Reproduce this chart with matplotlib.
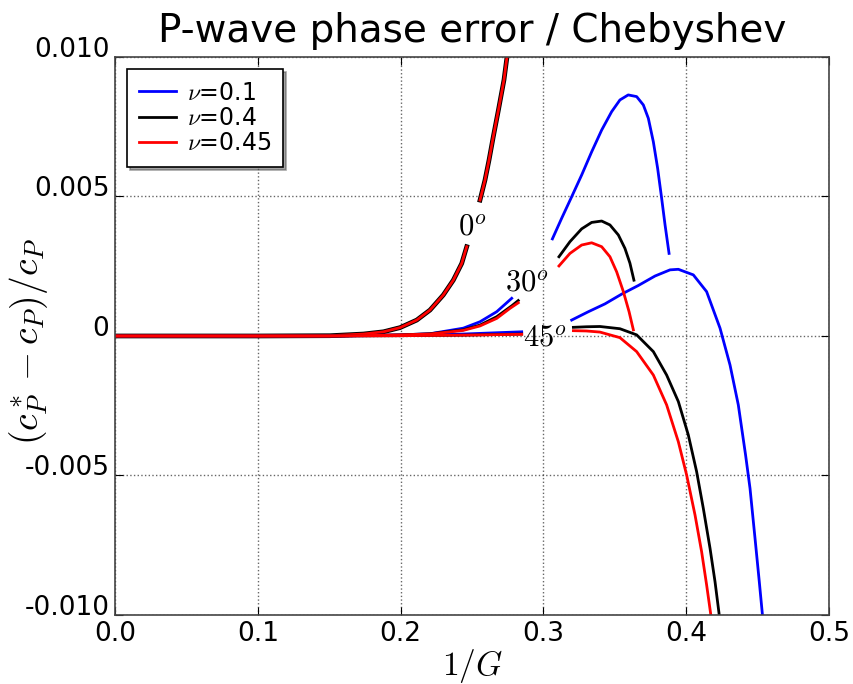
import matplotlib
matplotlib.use("Agg")
import matplotlib.pyplot as plt

plt.rcParams['mathtext.fontset'] = 'cm'
plt.rcParams['font.family'] = ['DejaVu Sans']

# 0 deg: all three nu lie on top of each other
x_0a = [0.0, 0.10, 0.1506, 0.174, 0.188, 0.1996, 0.2113, 0.2206, 0.2299, 0.2369, 0.2428, 0.2463]
y_0a = [0.0, 0.0, 0.00001, 0.00007, 0.00015, 0.0003, 0.00057, 0.00093, 0.00147, 0.002, 0.0026, 0.0032]
x_0b = [0.2556, 0.2591, 0.2619, 0.2649, 0.2685, 0.2724, 0.2745, 0.276]
y_0b = [0.00487, 0.00559, 0.0063, 0.00714, 0.0081, 0.00918, 0.0100, 0.0107]

# 30 deg, left of the label
x_30a_b = [0.0, 0.15, 0.18, 0.2, 0.2206, 0.2439, 0.2556, 0.2673, 0.2778]
y_30a_b = [0.0, 0.0, 0.00002, 0.00004, 0.00008, 0.00028, 0.00051, 0.00087, 0.00135]
x_30a_k = [0.0, 0.15, 0.18, 0.2, 0.2206, 0.2439, 0.2556, 0.2673, 0.2778, 0.2824]
y_30a_k = [0.0, 0.0, 0.00002, 0.00004, 0.00008, 0.00022, 0.00039, 0.00069, 0.00108, 0.00127]
x_30a_r = [0.0, 0.15, 0.18, 0.2, 0.2206, 0.2439, 0.2556, 0.2673, 0.2766, 0.2824]
y_30a_r = [0.0, 0.0, 0.00002, 0.00004, 0.00007, 0.0002, 0.00036, 0.00063, 0.00099, 0.00119]

# 30 deg, right of the label
x_30b_b = [0.3063, 0.3128, 0.3198, 0.3268, 0.3338, 0.3408, 0.3478, 0.3536, 0.3594, 0.3653,
           0.37, 0.3735, 0.377, 0.38, 0.3828, 0.3852, 0.388]
y_30b_b = [0.00348, 0.00422, 0.00499, 0.00577, 0.0066, 0.00738, 0.00804, 0.00846, 0.00864, 0.00858,
           0.00828, 0.0078, 0.00696, 0.00601, 0.00494, 0.00398, 0.00296]
x_30b_k = [0.3109, 0.3186, 0.3268, 0.3338, 0.3408, 0.3466, 0.3525, 0.3571, 0.3606, 0.3634]
y_30b_k = [0.00284, 0.00338, 0.00384, 0.00407, 0.00412, 0.00398, 0.00362, 0.00314, 0.00261, 0.002]
x_30b_r = [0.3109, 0.3186, 0.3268, 0.3338, 0.3408, 0.3466, 0.3513, 0.356, 0.36, 0.363]
y_30b_r = [0.00251, 0.00296, 0.00326, 0.00334, 0.0032, 0.00284, 0.0023, 0.00159, 0.00087, 0.00022]

# 45 deg, left of the label
x_45a_b = [0.0, 0.15, 0.2, 0.2439, 0.2848]
y_45a_b = [0.0, 0.0, 0.00002, 0.00007, 0.00015]
x_45a_k = [0.0, 0.15, 0.2, 0.2439, 0.2848]
y_45a_k = [0.0, 0.0, 0.00001, 0.00003, 0.00007]
x_45a_r = [0.0, 0.15, 0.2, 0.2439, 0.2848]
y_45a_r = [0.0, 0.0, 0.00001, 0.00003, 0.00006]

# 45 deg, right of the label
x_45b_b = [0.3198, 0.3315, 0.3431, 0.3548, 0.3665, 0.3782, 0.3887, 0.3945, 0.405, 0.4143,
           0.4237, 0.4307, 0.4365, 0.4416, 0.4447, 0.4482, 0.4512, 0.4533, 0.4540]
y_45b_b = [0.00057, 0.00087, 0.00115, 0.00150, 0.00181, 0.00215, 0.00237, 0.00239, 0.00219, 0.00159,
           0.00028, -0.00104, -0.00247, -0.00427, -0.00546, -0.00725, -0.00881, -0.00994, -0.0104]
x_45b_k = [0.321, 0.33, 0.3396, 0.3536, 0.3653, 0.377, 0.3863, 0.3945, 0.4015, 0.4073,
           0.412, 0.4167, 0.4202, 0.423, 0.4236]
y_45b_k = [0.00031, 0.00033, 0.00034, 0.00026, 0.00004, -0.00056, -0.0014, -0.00235, -0.00355, -0.00486,
           -0.00618, -0.00761, -0.00881, -0.00994, -0.0104]
x_45b_r = [0.321, 0.33, 0.3396, 0.3536, 0.3653, 0.377, 0.3863, 0.3945, 0.4003, 0.4062,
           0.4108, 0.4143, 0.4171, 0.4177]
y_45b_r = [0.00019, 0.00018, 0.00014, -0.00006, -0.00056, -0.0014, -0.00247, -0.00379, -0.00498, -0.00642,
           -0.00773, -0.00892, -0.00994, -0.0104]

nu_labels = [r'$\nu$=0.1', r'$\nu$=0.4', r'$\nu$=0.45']
angle_labels = [r'$0^o$', r'$30^o$', r'$45^o$']
angle_pos = [(0.2505, 0.00392), (0.2883, 0.00189), (0.3011, -0.00008)]
yticks = [-0.010, -0.005, 0.0, 0.005, 0.010]
ytick_labels = ['-0.010', '-0.005', '0', '0.005', '0.010']
xticks = [0.0, 0.1, 0.2, 0.3, 0.4, 0.5]

fig = plt.figure(figsize=(8.54, 6.84), dpi=100)
ax = fig.add_axes([0.1347, 0.1009, 0.836, 0.8158])

lw = 2
ax.plot(x_0a, y_0a, 'b', lw=lw)
ax.plot(x_0b, y_0b, 'b', lw=lw)
ax.plot(x_0a, y_0a, 'k', lw=lw + 1.4)
ax.plot(x_0b, y_0b, 'k', lw=lw + 1.4)
ax.plot(x_0a, y_0a, 'r', lw=lw)
ax.plot(x_0b, y_0b, 'r', lw=lw)

ax.plot(x_30a_b, y_30a_b, 'b', lw=lw, label=nu_labels[0])
ax.plot(x_30b_b, y_30b_b, 'b', lw=lw)
ax.plot(x_45a_b, y_45a_b, 'b', lw=lw)
ax.plot(x_45b_b, y_45b_b, 'b', lw=lw)

ax.plot(x_30a_k, y_30a_k, 'k', lw=lw, label=nu_labels[1])
ax.plot(x_30b_k, y_30b_k, 'k', lw=lw)
ax.plot(x_45a_k, y_45a_k, 'k', lw=lw)
ax.plot(x_45b_k, y_45b_k, 'k', lw=lw)

ax.plot(x_30a_r, y_30a_r, 'r', lw=lw, label=nu_labels[2])
ax.plot(x_30b_r, y_30b_r, 'r', lw=lw)
ax.plot(x_45a_r, y_45a_r, 'r', lw=lw)
ax.plot(x_45b_r, y_45b_r, 'r', lw=lw)

for lab, (tx, ty) in zip(angle_labels, angle_pos):
    ax.text(tx, ty, lab, fontsize=22, ha='center', va='center')

ax.set_xlim(0, 0.5)
ax.set_ylim(-0.010, 0.010)
ax.set_xticks(xticks)
ax.set_xticklabels(['%.1f' % t for t in xticks])
ax.set_yticks(yticks)
ax.set_yticklabels(ytick_labels)
ax.tick_params(direction='in', top=True, right=True, length=6, labelsize=19, pad=4)
# y tick labels sit on their baseline, as in the original
for t in ax.get_yticklabels():
    t.set_va('baseline')
ax.grid(True, color='k', linestyle=':', lw=1, alpha=0.6)
for s in ax.spines.values():
    s.set_linewidth(1.2)
    s.set_color('#444444')

ax.set_xlabel(r'$1/G$', fontsize=24)
ax.xaxis.set_label_coords(0.5, -0.057)
ax.set_ylabel(r'$(c^*_P - c_P)/c_P$', fontsize=27)
ax.yaxis.set_label_coords(-0.091, 0.49)
ax.set_title('P-wave phase error / Chebyshev', fontsize=28, pad=11)

leg = ax.legend(loc='upper left', fontsize=17, shadow=True, fancybox=False,
                handlelength=1.6, borderaxespad=0.5, labelspacing=0.05, borderpad=0.5,
                handletextpad=0.45)
leg.get_frame().set_edgecolor('k')
leg.get_frame().set_linewidth(1.2)

fig.savefig('out.png', dpi=100)
